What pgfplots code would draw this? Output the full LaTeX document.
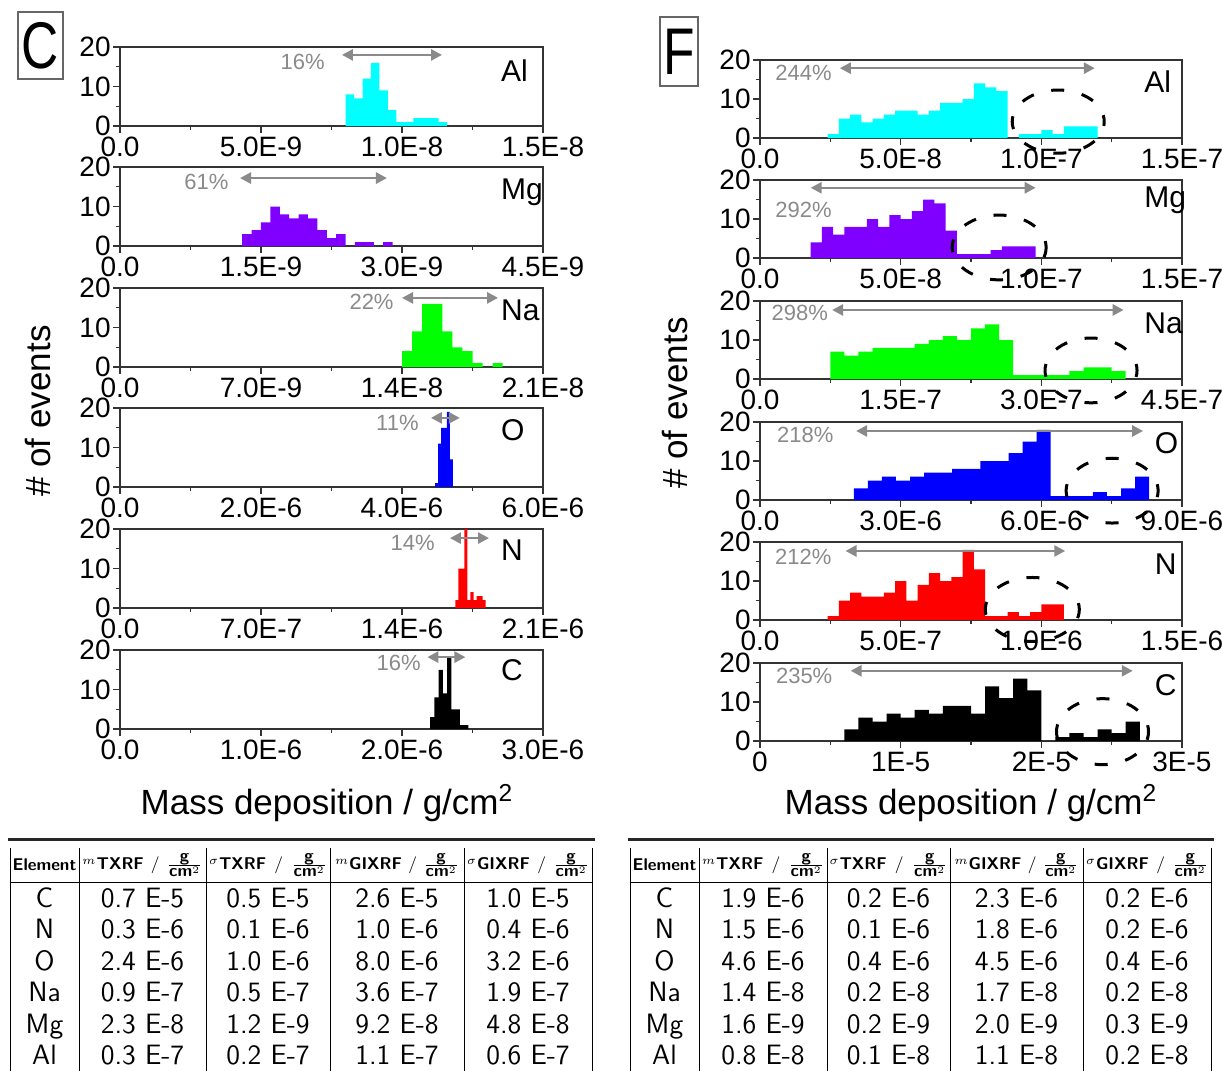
\documentclass[border=0pt]{standalone}
\usepackage{fontspec}
\setmainfont{Liberation Sans}
\usepackage{pgfplots}
\pgfplotsset{compat=1.18}
\usetikzlibrary{arrows.meta}

\definecolor{pgray}{HTML}{8A8A8A}
\definecolor{hcyan}{HTML}{00FFFF}
\definecolor{hviolet}{HTML}{8000FF}
\definecolor{hgreen}{HTML}{00FF00}
\definecolor{hblue}{HTML}{0000FF}
\definecolor{hred}{HTML}{FF0000}

\newcommand\tickfont{\fontsize{14}{16}\selectfont}
\newcommand\elemfont{\fontsize{15}{17}\selectfont}
\newcommand\pctfont{\fontsize{11}{12}\selectfont}
\newcommand\labfont{\fontsize{17.5}{20}\selectfont}
\newcommand\hdfont{\sffamily\fontsize{8.5}{9}\selectfont}
\newcommand\tbfont{\sffamily\fontsize{14}{16}\selectfont}
\newcommand\boxletter[1]{\scalebox{0.78}[1]{\fontsize{33}{35}\selectfont #1}}

\pgfplotsset{
  panel/.style={scale only axis, anchor=south west, xmin=0, ymin=0, ymax=20,
    ytick={0,10,20}, yticklabels={0,10,20}, minor x tick num=1, minor y tick num=1,
    tick align=outside, xtick pos=left, ytick pos=left,
    scaled x ticks=false, scaled y ticks=false, clip=false,
    axis line style={black!80, line width=0.7pt},
    tick style={black!80, line width=0.7pt},
    major tick length=3.5pt, minor tick length=2pt,
    ticklabel style={font=\tickfont, inner sep=1pt},
    xticklabel style={yshift=-0.8pt}},
  lpanel/.style={panel, width=211.5pt, height=39.5pt},
  rpanel/.style={panel, width=211pt, height=39pt},
  hist/.style={const plot mark left, draw=none, fill=#1},
}
\tikzset{
  pct/.style={draw=pgray, line width=1.3pt,
    {Triangle[length=5.5pt,width=5.5pt]}-{Triangle[length=5.5pt,width=5.5pt]}},
  plab/.style={text=pgray, font=\pctfont, inner sep=1pt},
  elem/.style={anchor=west, font=\elemfont, inner sep=0pt},
  circ/.style={draw=black, line width=1.5pt, dash pattern=on 6.5pt off 9pt, dash phase=3.25pt},
  cell/.style={font=\tbfont, anchor=base, inner sep=0pt},
}

\begin{document}
\begin{tikzpicture}
\useasboundingbox (0,0) rectangle (611pt,-535.5pt);

% ---------------- left column (C) ----------------
\begin{axis}[lpanel, at={(60pt,-63pt)}, xmax=1.5e-8,
  xtick={0,5e-9,1e-8,1.5e-8}, xticklabels={0.0,5.0E-9,1.0E-8,1.5E-8}]
\addplot[hist=hcyan] coordinates {(8.0e-9,8) (8.3e-9,7) (8.6e-9,12) (8.9e-9,16) (9.2e-9,9) (9.5e-9,4)
  (9.8e-9,1) (10.1e-9,1) (10.4e-9,2) (10.7e-9,2) (11.0e-9,2) (11.3e-9,1) (11.6e-9,1)} \closedcycle;
\draw[pct] (axis cs:7.87e-9,18) -- (axis cs:1.142e-8,18);
\node[plab, anchor=east] at (axis cs:7.34e-9,16.2) {16\%};
\node[elem] at (rel axis cs:0.9,0.7) {Al};
\end{axis}

\begin{axis}[lpanel, at={(60pt,-123pt)}, xmax=4.5e-9,
  xtick={0,1.5e-9,3e-9,4.5e-9}, xticklabels={0.0,1.5E-9,3.0E-9,4.5E-9}]
\addplot[hist=hviolet] coordinates {(1.3e-9,3) (1.4e-9,4) (1.5e-9,6) (1.6e-9,10) (1.7e-9,8) (1.8e-9,7)
  (1.9e-9,8) (2.0e-9,7) (2.1e-9,4) (2.2e-9,2) (2.3e-9,3) (2.4e-9,0) (2.5e-9,1) (2.6e-9,1) (2.7e-9,0)
  (2.8e-9,1) (2.9e-9,1)} \closedcycle;
\draw[pct] (axis cs:1.277e-9,17.2) -- (axis cs:2.84e-9,17.2);
\node[plab, anchor=east] at (axis cs:1.18e-9,16.2) {61\%};
\node[elem] at (rel axis cs:0.9,0.68) {Mg};
\end{axis}

\begin{axis}[lpanel, at={(60pt,-183.5pt)}, xmax=2.1e-8,
  xtick={0,7e-9,1.4e-8,2.1e-8}, xticklabels={0.0,7.0E-9,1.4E-8,2.1E-8}]
\addplot[hist=hgreen] coordinates {(14.0e-9,4) (14.5e-9,9) (15.0e-9,16) (15.5e-9,16) (16.0e-9,9)
  (16.5e-9,5) (17.0e-9,4) (17.5e-9,1) (18.0e-9,0) (18.5e-9,1) (19.0e-9,1)} \closedcycle;
\draw[pct] (axis cs:1.40e-8,17.5) -- (axis cs:1.877e-8,17.5);
\node[plab, anchor=east] at (axis cs:1.37e-8,16.5) {22\%};
\node[elem] at (rel axis cs:0.9,0.72) {Na};
\end{axis}

\begin{axis}[lpanel, at={(60pt,-243.5pt)}, xmax=6e-6,
  xtick={0,2e-6,4e-6,6e-6}, xticklabels={0.0,2.0E-6,4.0E-6,6.0E-6}]
\addplot[hist=hblue] coordinates {(4.470e-6,1) (4.512e-6,11) (4.554e-6,15) (4.596e-6,15) (4.638e-6,19)
  (4.680e-6,7) (4.722e-6,7)} \closedcycle;
\draw[pct] (axis cs:4.41e-6,17.5) -- (axis cs:4.82e-6,17.5);
\node[plab, anchor=east] at (axis cs:4.27e-6,16.2) {11\%};
\node[elem] at (rel axis cs:0.9,0.72) {O};
\end{axis}

\begin{axis}[lpanel, at={(60pt,-304pt)}, xmax=2.1e-6,
  xtick={0,7e-7,1.4e-6,2.1e-6}, xticklabels={0.0,7.0E-7,1.4E-6,2.1E-6}]
\addplot[hist=hred] coordinates {(1.665e-6,2) (1.680e-6,10) (1.695e-6,10) (1.710e-6,20) (1.725e-6,2)
  (1.740e-6,4) (1.755e-6,2) (1.770e-6,3) (1.785e-6,3) (1.800e-6,2) (1.815e-6,2)} \closedcycle;
\draw[pct] (axis cs:1.638e-6,17.7) -- (axis cs:1.832e-6,17.7);
\node[plab, anchor=east] at (axis cs:1.574e-6,16.5) {14\%};
\node[elem] at (rel axis cs:0.9,0.73) {N};
\end{axis}

\begin{axis}[lpanel, at={(60pt,-364.5pt)}, xmax=3e-6,
  xtick={0,1e-6,2e-6,3e-6}, xticklabels={0.0,1.0E-6,2.0E-6,3.0E-6}]
\addplot[hist=black] coordinates {(2.20e-6,3) (2.23e-6,8) (2.26e-6,15) (2.29e-6,9) (2.32e-6,18)
  (2.35e-6,5) (2.38e-6,5) (2.41e-6,1) (2.44e-6,1) (2.47e-6,1)} \closedcycle;
\draw[pct] (axis cs:2.18e-6,18.2) -- (axis cs:2.45e-6,18.2);
\node[plab, anchor=east] at (axis cs:2.15e-6,16.7) {16\%};
\node[elem] at (rel axis cs:0.9,0.75) {C};
\end{axis}

% ---------------- right column (F) ----------------
\begin{axis}[rpanel, at={(380pt,-69pt)}, xmax=1.5e-7,
  xtick={0,5e-8,1e-7,1.5e-7}, xticklabels={0.0,5.0E-8,1.0E-7,1.5E-7}]
\addplot[hist=hcyan] coordinates {(24e-9,1) (28e-9,5) (32e-9,6) (36e-9,4) (40e-9,5) (44e-9,6) (48e-9,7)
  (52e-9,7) (56e-9,6) (60e-9,7) (64e-9,9) (68e-9,9) (72e-9,10) (76e-9,14) (80e-9,13) (84e-9,12)
  (88e-9,0) (92e-9,1) (96e-9,1) (100e-9,2) (104e-9,1) (108e-9,3) (112e-9,3) (116e-9,3) (120e-9,3)} \closedcycle;
\draw[pct] (axis cs:28.4e-9,17.9) -- (axis cs:119e-9,17.9);
\node[plab, anchor=east] at (axis cs:26.3e-9,16.7) {244\%};
\draw[circ] (axis cs:1.06e-7,4.2) ellipse [x radius=23pt, y radius=15.8pt];
\node[elem] at (rel axis cs:0.91,0.72) {Al};
\end{axis}

\begin{axis}[rpanel, at={(380pt,-129pt)}, xmax=1.5e-7,
  xtick={0,5e-8,1e-7,1.5e-7}, xticklabels={0.0,5.0E-8,1.0E-7,1.5E-7}]
\addplot[hist=hviolet] coordinates {(18e-9,4) (22e-9,8) (26e-9,6) (30e-9,8) (34e-9,8) (38e-9,10)
  (42e-9,8) (46e-9,11) (50e-9,10) (54e-9,12) (58e-9,15) (62e-9,14) (66e-9,7) (70e-9,1) (74e-9,1)
  (78e-9,1) (82e-9,2) (86e-9,3) (90e-9,3) (94e-9,3) (98e-9,3)} \closedcycle;
\draw[pct] (axis cs:18e-9,18) -- (axis cs:98e-9,18);
\node[plab] at (axis cs:15.5e-9,12.3) {292\%};
\draw[circ] (axis cs:8.5e-8,2.7) ellipse [x radius=23.5pt, y radius=16.2pt];
\node[elem] at (rel axis cs:0.91,0.74) {Mg};
\end{axis}

\begin{axis}[rpanel, at={(380pt,-189.5pt)}, xmax=4.5e-7,
  xtick={0,1.5e-7,3e-7,4.5e-7}, xticklabels={0.0,1.5E-7,3.0E-7,4.5E-7}]
\addplot[hist=hgreen] coordinates {(75e-9,7) (90e-9,6) (105e-9,7) (120e-9,8) (135e-9,8) (150e-9,8)
  (165e-9,9) (180e-9,10) (195e-9,11) (210e-9,10) (225e-9,13) (240e-9,14) (255e-9,10) (270e-9,1)
  (285e-9,1) (300e-9,1) (315e-9,1) (330e-9,2) (345e-9,3) (360e-9,3) (375e-9,2) (390e-9,2)} \closedcycle;
\draw[pct] (axis cs:76.9e-9,17.7) -- (axis cs:387.8e-9,17.7);
\node[plab, anchor=east] at (axis cs:74.9e-9,16.9) {298\%};
\draw[circ] (axis cs:3.53e-7,2.2) ellipse [x radius=23pt, y radius=16.2pt];
\node[elem] at (rel axis cs:0.91,0.72) {Na};
\end{axis}

\begin{axis}[rpanel, at={(380pt,-250pt)}, xmax=9e-6,
  xtick={0,3e-6,6e-6,9e-6}, xticklabels={0.0,3.0E-6,6.0E-6,9.0E-6}]
\addplot[hist=hblue] coordinates {(2.0e-6,3) (2.3e-6,5) (2.6e-6,6) (2.9e-6,5) (3.2e-6,6) (3.5e-6,7)
  (3.8e-6,7) (4.1e-6,8) (4.4e-6,8) (4.7e-6,10) (5.0e-6,10) (5.3e-6,12) (5.6e-6,15) (5.9e-6,18)
  (6.2e-6,1) (6.5e-6,1) (6.8e-6,1) (7.1e-6,2) (7.4e-6,1) (7.7e-6,3) (8.0e-6,6) (8.3e-6,6)} \closedcycle;
\draw[pct] (axis cs:2.05e-6,17.7) -- (axis cs:8.17e-6,17.7);
\node[plab] at (axis cs:0.965e-6,16.7) {218\%};
\draw[circ] (axis cs:7.51e-6,2.4) ellipse [x radius=23pt, y radius=16.2pt];
\node[elem] at (rel axis cs:0.935,0.73) {O};
\end{axis}

\begin{axis}[rpanel, at={(380pt,-310pt)}, xmax=1.5e-6,
  xtick={0,5e-7,1e-6,1.5e-6}, xticklabels={0.0,5.0E-7,1.0E-6,1.5E-6}]
\addplot[hist=hred] coordinates {(0.24e-6,1) (0.28e-6,5) (0.32e-6,7) (0.36e-6,6) (0.40e-6,6) (0.44e-6,7)
  (0.48e-6,10) (0.52e-6,5) (0.56e-6,9) (0.60e-6,12) (0.64e-6,10) (0.68e-6,11) (0.72e-6,18) (0.76e-6,13)
  (0.80e-6,1) (0.84e-6,1) (0.88e-6,2) (0.92e-6,1) (0.96e-6,2) (1.00e-6,4) (1.04e-6,4) (1.08e-6,4)} \closedcycle;
\draw[pct] (axis cs:0.304e-6,17.7) -- (axis cs:1.085e-6,17.7);
\node[plab] at (axis cs:0.154e-6,16.2) {212\%};
\draw[circ] (axis cs:0.968e-6,2.7) ellipse [x radius=23.5pt, y radius=16pt];
\node[elem] at (rel axis cs:0.935,0.71) {N};
\end{axis}

\begin{axis}[rpanel, at={(380pt,-370.5pt)}, xmax=3e-5,
  xtick={0,1e-5,2e-5,3e-5}, xticklabels={0,1E-5,2E-5,3E-5}]
\addplot[hist=black] coordinates {(6e-6,3) (7e-6,6) (8e-6,5) (9e-6,7) (10e-6,6) (11e-6,8) (12e-6,7)
  (13e-6,9) (14e-6,9) (15e-6,7) (16e-6,14) (17e-6,11) (18e-6,16) (19e-6,13) (20e-6,0) (21e-6,1)
  (22e-6,2) (23e-6,1) (24e-6,3) (25e-6,2) (26e-6,5) (27e-6,5)} \closedcycle;
\draw[pct] (axis cs:6.44e-6,18) -- (axis cs:26.5e-6,18);
\node[plab] at (axis cs:3.14e-6,16.7) {235\%};
\draw[circ] (axis cs:24.35e-6,2.4) ellipse [x radius=23pt, y radius=16.5pt];
\node[elem] at (rel axis cs:0.935,0.72) {C};
\end{axis}

% ---------------- labels, boxes, tables (pixel grid) ----------------
\begin{scope}[x=0.5pt,y=-0.5pt]
\draw[black!60, line width=0.6pt] (18,12) rectangle (63,79);
\node at (40.5,45.5) {\boxletter{C}};
\draw[black!60, line width=0.6pt] (660,17) rectangle (698,86);
\node at (679,51.5) {\boxletter{F}};

\node[rotate=90, font=\labfont] at (38,411) {\# of events};
\node[rotate=90, font=\labfont] at (675,403) {\# of events};
\node[font=\labfont] at (327,803) {Mass deposition / g/cm\textsuperscript{2}};
\node[font=\labfont] at (971,803) {Mass deposition / g/cm\textsuperscript{2}};

% left table
\draw[black!85, line width=1.5pt] (8,839) -- (595,839);
\foreach \x in {10,79,206,330,464,592} \draw[line width=0.5pt] (\x,848) -- (\x,1071);
\draw[line width=0.5pt] (10,882) -- (592,882);
\node[font=\hdfont\bfseries] at (44.5,865) {Element};
\node[inner sep=0pt] at (142.5,865) {\makebox[60pt]{\hdfont${}^{m}$\textbf{TXRF}\hfill/\hfill$\frac{\textbf{g}}{\textbf{cm}^2}$}};
\node[inner sep=0pt] at (268,865) {\makebox[59pt]{\hdfont${}^{\sigma}$\textbf{TXRF}\hfill/\hfill$\frac{\textbf{g}}{\textbf{cm}^2}$}};
\node[inner sep=0pt] at (397,865) {\makebox[62pt]{\hdfont${}^{m}$\textbf{GIXRF}\hfill/\hfill$\frac{\textbf{g}}{\textbf{cm}^2}$}};
\node[inner sep=0pt] at (528,865) {\makebox[61pt]{\hdfont${}^{\sigma}$\textbf{GIXRF}\hfill/\hfill$\frac{\textbf{g}}{\textbf{cm}^2}$}};
\foreach \el/\a/\b/\c/\d [count=\i from 0] in {C/0.7 E-5/0.5 E-5/2.6 E-5/1.0 E-5,
  N/0.3 E-6/0.1 E-6/1.0 E-6/0.4 E-6, O/2.4 E-6/1.0 E-6/8.0 E-6/3.2 E-6,
  Na/0.9 E-7/0.5 E-7/3.6 E-7/1.9 E-7, Mg/2.3 E-8/1.2 E-9/9.2 E-8/4.8 E-8,
  Al/0.3 E-7/0.2 E-7/1.1 E-7/0.6 E-7} {
  \node[cell] at (44.5,907+31.5*\i) {\el};
  \node[cell] at (142.5,907+31.5*\i) {\a};
  \node[cell] at (268,907+31.5*\i) {\b};
  \node[cell] at (397,907+31.5*\i) {\c};
  \node[cell] at (528,907+31.5*\i) {\d};
}

% right table
\draw[black!85, line width=1.5pt] (628,839) -- (1214,839);
\foreach \x in {630,699,827,950,1083,1211} \draw[line width=0.5pt] (\x,848) -- (\x,1071);
\draw[line width=0.5pt] (630,882) -- (1211,882);
\node[font=\hdfont\bfseries] at (664.5,865) {Element};
\node[inner sep=0pt] at (763,865) {\makebox[61pt]{\hdfont${}^{m}$\textbf{TXRF}\hfill/\hfill$\frac{\textbf{g}}{\textbf{cm}^2}$}};
\node[inner sep=0pt] at (888.5,865) {\makebox[59pt]{\hdfont${}^{\sigma}$\textbf{TXRF}\hfill/\hfill$\frac{\textbf{g}}{\textbf{cm}^2}$}};
\node[inner sep=0pt] at (1016.5,865) {\makebox[62pt]{\hdfont${}^{m}$\textbf{GIXRF}\hfill/\hfill$\frac{\textbf{g}}{\textbf{cm}^2}$}};
\node[inner sep=0pt] at (1147,865) {\makebox[61pt]{\hdfont${}^{\sigma}$\textbf{GIXRF}\hfill/\hfill$\frac{\textbf{g}}{\textbf{cm}^2}$}};
\foreach \el/\a/\b/\c/\d [count=\i from 0] in {C/1.9 E-6/0.2 E-6/2.3 E-6/0.2 E-6,
  N/1.5 E-6/0.1 E-6/1.8 E-6/0.2 E-6, O/4.6 E-6/0.4 E-6/4.5 E-6/0.4 E-6,
  Na/1.4 E-8/0.2 E-8/1.7 E-8/0.2 E-8, Mg/1.6 E-9/0.2 E-9/2.0 E-9/0.3 E-9,
  Al/0.8 E-8/0.1 E-8/1.1 E-8/0.2 E-8} {
  \node[cell] at (664.5,907+31.5*\i) {\el};
  \node[cell] at (763,907+31.5*\i) {\a};
  \node[cell] at (888.5,907+31.5*\i) {\b};
  \node[cell] at (1016.5,907+31.5*\i) {\c};
  \node[cell] at (1147,907+31.5*\i) {\d};
}
\end{scope}
\end{tikzpicture}
\end{document}
